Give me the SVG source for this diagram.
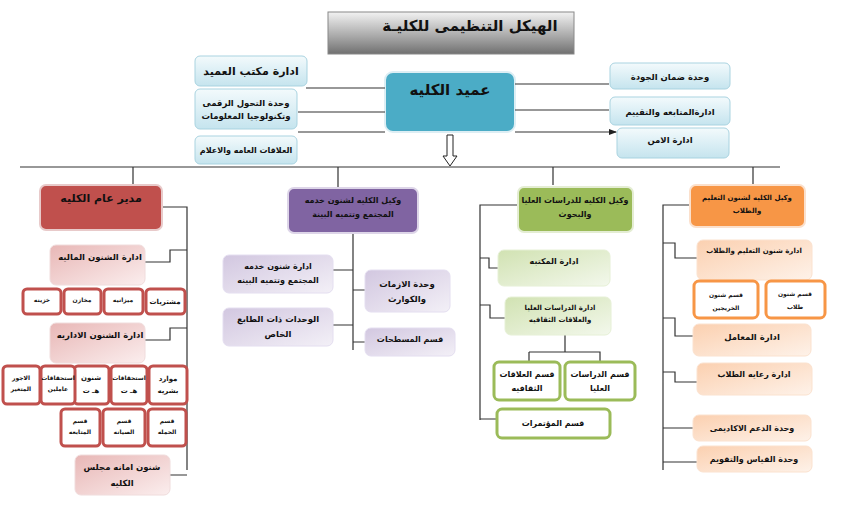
<svg xmlns="http://www.w3.org/2000/svg" width="842" height="531" viewBox="0 0 842 531">
<defs>
<linearGradient id="gt" x1="0" y1="0" x2="0" y2="1"><stop offset="0" stop-color="#f2f2f2"/><stop offset="0.6" stop-color="#a6a6a6"/><stop offset="1" stop-color="#707070"/></linearGradient>
<linearGradient id="gb" x1="0" y1="0" x2="0" y2="1"><stop offset="0" stop-color="#f3fafc"/><stop offset="1" stop-color="#c5e4ee"/></linearGradient>
<linearGradient id="gr" x1="0" y1="0" x2="1" y2="1"><stop offset="0" stop-color="#e8b7b6"/><stop offset="1" stop-color="#fbeeee"/></linearGradient>
<linearGradient id="gp" x1="0" y1="0" x2="1" y2="1"><stop offset="0" stop-color="#d2c7e0"/><stop offset="1" stop-color="#f3f0f7"/></linearGradient>
<linearGradient id="gg" x1="0" y1="0" x2="1" y2="1"><stop offset="0" stop-color="#d1e2b2"/><stop offset="1" stop-color="#f3f8ec"/></linearGradient>
<linearGradient id="go" x1="0" y1="0" x2="1" y2="1"><stop offset="0" stop-color="#fbd0b0"/><stop offset="1" stop-color="#fef2e9"/></linearGradient>
<marker id="ah" markerWidth="8" markerHeight="8" refX="7" refY="4" orient="auto" markerUnits="userSpaceOnUse"><path d="M0,1 L8,4 L0,7 z" fill="#222"/></marker>
</defs>
<style>
text{font-family:"DejaVu Sans","Noto Sans",sans-serif;font-weight:bold;font-size:8.5px;fill:#111;text-anchor:middle}
.t{font-size:15px}.b{font-size:11px}.s7{font-size:7px}.s6{font-size:6px}.s8{font-size:8px}
.bl{fill:url(#gb);stroke:#a9d3e0;stroke-width:1}
.rd{fill:url(#gr);stroke:#f0dcdc;stroke-width:1}
.ru{fill:#fff;stroke:#c0504d;stroke-width:3}
.pu{fill:url(#gp);stroke:#e4def0;stroke-width:1}
.gn{fill:url(#gg);stroke:#e6f0d6;stroke-width:1}
.gu{fill:#fff;stroke:#9bbb59;stroke-width:3}
.or{fill:url(#go);stroke:#fbe2cf;stroke-width:1}
.ou{fill:#fff;stroke:#f79646;stroke-width:3}
.ln{fill:none;stroke:#333;stroke-width:1.2}
</style>
<g id="title"><rect x="328" y="12" width="246" height="42" fill="url(#gt)" stroke="#888"/><text class="t" x="470" y="31">الهيكل التنظيمى للكليـة</text></g>
<g id="dean"><rect x="385" y="72" width="130" height="60" rx="8" fill="#4bacc6" stroke="#ddeef4" stroke-width="2"/><text class="t" x="450" y="95">عميد الكليه</text></g>
<g id="n1"><rect class="bl" x="195" y="56" width="112" height="30" rx="5"/><text class="b" x="251" y="75">ادارة مكتب العميد</text></g>
<g id="n2"><rect class="bl" x="195" y="89" width="102" height="40" rx="5"/><text x="246" y="106">وحدة التحول الرقمى</text><text x="246" y="119">وتكنولوجيا المعلومات</text></g>
<g id="n3"><rect class="bl" x="195" y="136" width="102" height="28" rx="5"/><text class="s8" x="246" y="153">العلاقات العامه والاعلام</text></g>
<g id="n4"><rect class="bl" x="610" y="63" width="120" height="26" rx="5"/><text x="670" y="80">وحدة ضمان الجودة</text></g>
<g id="n5"><rect class="bl" x="610" y="97" width="120" height="28" rx="5"/><text x="670" y="115">ادارةالمتابعه والتقييم</text></g>
<g id="n6"><rect class="bl" x="617" y="128" width="112" height="30" rx="5"/><text x="670" y="143">ادارة الامن</text></g>

<g id="connectors">
<path class="ln" marker-end="url(#ah)" d="M385,88H306M385,112H298M385,132H298M515,84H609M515,110H609M515,132H616"/>
<path d="M447,135V156H443L450,166L457,156H453V135Z" fill="#fff" stroke="#222"/>
<path class="ln" d="M20,167H780M133,167V185M338,167V188M553,167V185M753,167V185"/>
<path class="ln" d="M162,207H187V470M145,262H170V250H187M145,340H170V328H187M170,475H187"/>
<path class="ln" d="M353,233V350M333,270H353M333,325H353M353,290H365M353,342H365"/>
<path class="ln" d="M518,205H480V420M480,258H489V268H498M480,305H490V318H505M565,335V352M529,352H600V362M529,352V362M480,419H497"/>
<path class="ln" d="M690,205H663V470M663,243H675V258H697M663,318H675V336H693M663,372H675V382H697M663,428H693M663,462H697"/>
</g>

<g id="red"><rect x="40" y="185" width="122" height="45" rx="6" fill="#c0504d" stroke="#e8caca" stroke-width="2"/><text class="b" x="101" y="202">مدير عام الكليه</text></g>
<g id="r1"><rect class="rd" x="50" y="245" width="95" height="40" rx="6"/><text x="100" y="260">ادارة الشنون الماليه</text></g>
<g id="r1a"><rect class="ru" x="146" y="289" width="39" height="25" rx="4"/><text class="s7" x="165" y="304">مشتريات</text></g>
<g id="r1b"><rect class="ru" x="104" y="289" width="39" height="25" rx="4"/><text class="s6" x="123" y="302">ميزانيه</text></g>
<g id="r1c"><rect class="ru" x="64" y="289" width="37" height="25" rx="4"/><text class="s6" x="82" y="302">مخازن</text></g>
<g id="r1d"><rect class="ru" x="23" y="289" width="38" height="25" rx="4"/><text class="s6" x="42" y="302">خزينه</text></g>
<g id="r2"><rect class="rd" x="50" y="323" width="95" height="40" rx="6"/><text x="100" y="338">ادارة الشنون الاداريه</text></g>
<g id="r2a"><rect class="ru" x="149" y="366" width="38" height="38" rx="4"/><text class="s7" x="168" y="381">موارد</text><text class="s7" x="168" y="393">بشريه</text></g>
<g id="r2b"><rect class="ru" x="111" y="366" width="36" height="38" rx="4"/><text class="s6" x="129" y="380">استحقاقات</text><text class="s7" x="129" y="393">هـ ت</text></g>
<g id="r2c"><rect class="ru" x="74" y="366" width="35" height="38" rx="4"/><text class="s7" x="91" y="380">شنون</text><text class="s7" x="91" y="393">هـ ت</text></g>
<g id="r2d"><rect class="ru" x="41" y="366" width="34" height="38" rx="4"/><text class="s6" x="58" y="380">استحقاقات</text><text class="s6" x="58" y="391">عاملين</text></g>
<g id="r2e"><rect class="ru" x="3" y="366" width="37" height="38" rx="4"/><text class="s6" x="21" y="380">الاجور</text><text class="s6" x="21" y="391">المتغير</text></g>
<g id="r2f"><rect class="ru" x="148" y="409" width="38" height="37" rx="4"/><text class="s6" x="167" y="423">قسم</text><text class="s6" x="167" y="434">الحمله</text></g>
<g id="r2g"><rect class="ru" x="103" y="409" width="42" height="37" rx="4"/><text class="s6" x="124" y="423">قسم</text><text class="s6" x="124" y="434">الصيانه</text></g>
<g id="r2h"><rect class="ru" x="61" y="409" width="39" height="37" rx="4"/><text class="s6" x="80" y="423">قسم</text><text class="s6" x="80" y="434">المتابعه</text></g>
<g id="r3"><rect class="rd" x="75" y="455" width="95" height="40" rx="6"/><text x="122" y="470">شنون  امانه مجلس</text><text x="122" y="486">الكليه</text></g>

<g id="purple"><rect x="288" y="188" width="130" height="45" rx="6" fill="#8064a2" stroke="#ddd5e8" stroke-width="2"/><text class="s8" x="353" y="203">وكيل الكليه لشنون خدمه</text><text class="s8" x="353" y="217">المجتمع وتتميه البينة</text></g>
<g id="p1"><rect class="pu" x="223" y="255" width="110" height="38" rx="6"/><text class="s8" x="278" y="269">ادارة شنون خدمه</text><text class="s8" x="278" y="283">المجتمع  وتتميه البينه</text></g>
<g id="p2"><rect class="pu" x="223" y="308" width="110" height="38" rx="6"/><text x="278" y="322">الوحدات ذات الطابع</text><text x="278" y="337">الخاص</text></g>
<g id="p3"><rect class="pu" x="365" y="270" width="85" height="42" rx="6"/><text x="407" y="287">وحدة الازمات</text><text x="407" y="302">والكوارث</text></g>
<g id="p4"><rect class="pu" x="365" y="328" width="90" height="28" rx="6"/><text class="s8" x="410" y="342">قسم المسطحات</text></g>

<g id="green"><rect x="518" y="187" width="115" height="45" rx="6" fill="#9bbb59" stroke="#e4edd3" stroke-width="2"/><text class="s8" x="575" y="203">وكيل الكليه للدراسات العليا</text><text class="s8" x="575" y="217">والبحوث</text></g>
<g id="g1"><rect class="gn" x="498" y="250" width="112" height="36" rx="6"/><text class="s8" x="554" y="264">ادارة المكتبه</text></g>
<g id="g2"><rect class="gn" x="505" y="297" width="106" height="38" rx="6"/><text class="s7" x="560" y="310">ادارة   الدراسات العليا</text><text class="s7" x="560" y="322">والعلاقات الثقافيه</text></g>
<g id="g3"><rect class="gu" x="494" y="362" width="66" height="38" rx="5"/><text class="s8" x="527" y="377">قسم العلاقات</text><text class="s8" x="527" y="391">الثقافيه</text></g>
<g id="g4"><rect class="gu" x="565" y="362" width="70" height="38" rx="5"/><text class="s8" x="600" y="377">قسم الدراسات</text><text class="s8" x="600" y="391">العليا</text></g>
<g id="g5"><rect class="gu" x="497" y="409" width="113" height="29" rx="5"/><text class="s8" x="553" y="426">قسم المؤتمرات</text></g>

<g id="orange"><rect x="690" y="185" width="115" height="42" rx="6" fill="#f79646" stroke="#fbe0cc" stroke-width="2"/><text class="s7" x="747" y="200">وكيل الكليه لشنون   التعليم</text><text class="s7" x="747" y="213">والطلاب</text></g>
<g id="o1"><rect class="or" x="697" y="240" width="115" height="40" rx="6"/><text class="s7" x="754" y="253">ادارة شنون التعليم والطلاب</text></g>
<g id="o2"><rect class="ou" x="694" y="281" width="64" height="37" rx="5"/><text class="s6" x="726" y="297">قسم شنون</text><text class="s6" x="726" y="310">الخريجين</text></g>
<g id="o3"><rect class="ou" x="766" y="281" width="59" height="37" rx="5"/><text class="s6" x="795" y="296">قسم شنون</text><text class="s6" x="795" y="309">طلاب</text></g>
<g id="o4"><rect class="or" x="693" y="324" width="118" height="32" rx="6"/><text x="752" y="340">ادارة المعامل</text></g>
<g id="o5"><rect class="or" x="697" y="363" width="115" height="32" rx="6"/><text class="s8" x="754" y="377">ادارة رعايه الطلاب</text></g>
<g id="o6"><rect class="or" x="693" y="415" width="118" height="26" rx="6"/><text class="s8" x="752" y="431">وحدة الدعم الاكاديمى</text></g>
<g id="o7"><rect class="or" x="697" y="446" width="115" height="26" rx="6"/><text class="s8" x="754" y="462">وحدة القياس والتقويم</text></g>
</svg>
